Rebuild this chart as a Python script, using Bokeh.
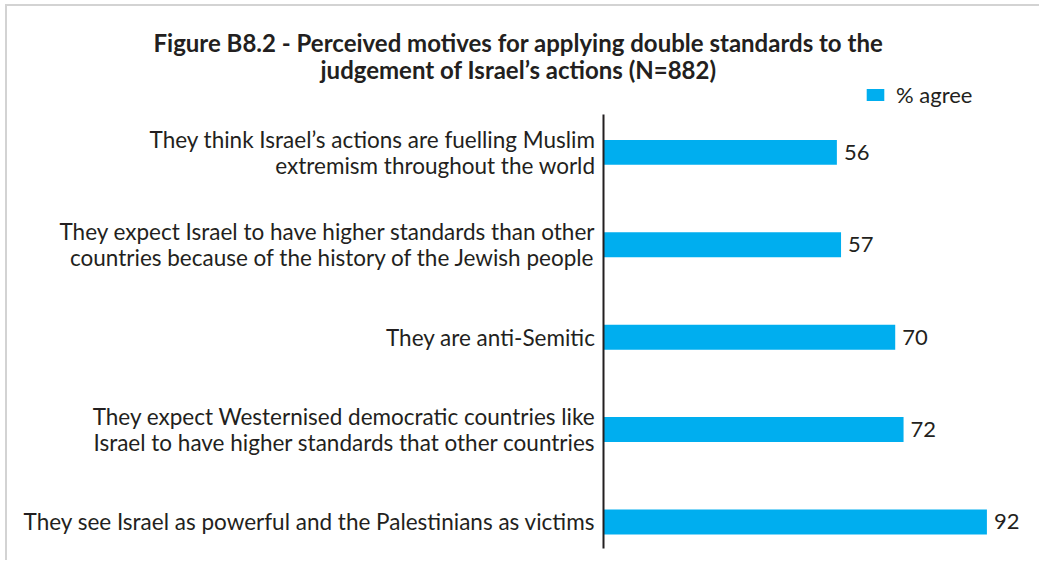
from bokeh.plotting import figure
from bokeh.models import Range1d, FixedTicker, Legend, LegendItem, ColumnDataSource, Title
from bokeh.core.properties import value
from bokeh.embed import file_html
from bokeh.resources import INLINE

categories = [
    "They think Israel\u2019s actions are fuelling Muslim\nextremism throughout the world",
    "They expect Israel to have higher standards than other\ncountries because of the history of the Jewish people",
    "They are anti-Semitic",
    "They expect Westernised democratic countries like\nIsrael to have higher standards that other countries",
    "They see Israel as powerful and the Palestinians as victims",
]
agree = [56, 57, 70, 72, 92]
series_name = "% agree"
title_lines = [
    "Figure B8.2 - Perceived motives for applying double standards to the",
    "judgement of Israel\u2019s actions (N=882)",
]
title_offsets = [-450, -283]
title_standoffs = [-3, -6]

FONT = "Lato"
TXT = "#231f20"
BLUE = "#00AEEF"

n = len(categories)
ypos = [n - 1 - i for i in range(n)]
src = ColumnDataSource(dict(y=ypos, v=agree, lab=[str(a) for a in agree]))

p = figure(width=1034, height=556, output_backend="svg", toolbar_location=None,
           x_range=Range1d(0, 105.1), y_range=Range1d(-0.287, 4.778),
           min_border_left=596, min_border_right=0, min_border_top=74, min_border_bottom=14)
p.outline_line_color = None
p.xgrid.visible = False
p.ygrid.visible = False
p.xaxis.visible = False
p.title.visible = False

r = p.hbar(y="y", right="v", left=0, height=0.27, source=src, color=BLUE, line_color=None)
p.text(x="v", y="y", text="lab", source=src, x_offset=7, text_baseline="middle",
       text_align="left", text_font=value(FONT), text_font_size="22px", text_color=TXT)

legend = Legend(items=[LegendItem(label=series_name, renderers=[r])],
                location=(261, 440), orientation="horizontal",
                glyph_width=22, glyph_height=15, label_standoff=10, label_height=20,
                padding=0, margin=0, border_line_color=None, background_fill_alpha=0,
                label_text_font=FONT, label_text_font_size="22px", label_text_color=TXT)
p.add_layout(legend, "center")

# second title line next to the plot, first line above it
for t, off, so in reversed(list(zip(title_lines, title_offsets, title_standoffs))):
    p.add_layout(Title(text=t, align="left", offset=off, standoff=so,
                       text_font=FONT, text_font_style="bold", text_font_size="24px",
                       text_color=TXT, text_line_height=0.9), "above")

ax = p.yaxis[0]
ax.ticker = FixedTicker(ticks=ypos)
ax.bounds = (-0.287, 4.41)
ax.major_label_overrides = {y: c for y, c in zip(ypos, categories)}
ax.major_tick_line_color = None
ax.minor_tick_line_color = None
ax.major_tick_out = 0
ax.major_tick_in = 0
ax.minor_tick_out = 0
ax.axis_line_color = "#231f20"
ax.axis_line_width = 2
ax.major_label_standoff = 8
ax.major_label_text_font = FONT
ax.major_label_text_font_size = "22.5px"
ax.major_label_text_color = TXT
ax.major_label_text_line_height = 0.97

p.styles = {"margin-top": "4px", "margin-left": "5px",
            "border-top": "2px solid #d3d3d3", "border-left": "2px solid #d3d3d3"}

open("out.html", "w").write(file_html(p, INLINE))
